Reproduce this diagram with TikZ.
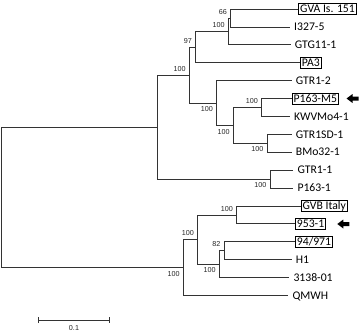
\documentclass[tikz,border=0pt]{standalone}
\usepackage{fontspec}
\setmainfont{Carlito}
\newfontfamily\bootfont{Liberation Sans}
\usetikzlibrary{arrows.meta}

\tikzset{
  branch/.style={draw=black!80, line width=0.7pt},
  taxon/.style={anchor=west, inner xsep=4pt, inner ysep=0.6pt, text height=8.6pt, text depth=1.1pt, font=\fontsize{11.7}{12}\selectfont},
  boxed/.style={taxon, draw=black, line width=0.8pt, inner xsep=1.5pt},
  boot/.style={inner sep=0pt, font=\bootfont\fontsize{7.2}{8}\selectfont, text=black!85},
  bootup/.style={boot, anchor=south east, xshift=-3.5pt, yshift=3.5pt},
  bootdown/.style={boot, anchor=north east, xshift=-3.5pt, yshift=-3.5pt},
  pics/pointer/.style={code={
    \fill (0,0) -- (6,-4.5) -- (6,-2) -- (12,-2) -- (12,2) -- (6,2) -- (6,4.5) -- cycle;
  }}
}

\begin{document}
\begin{tikzpicture}[x=1pt,y=-1pt]
    \useasboundingbox (0,0) rectangle (359,332);

    % taxa
    \node [boxed] (tGVA) at (298.3,9) {GVA Is. 151};
    \node [taxon] (tI327) at (290,26.9) {I327-5};
    \node [taxon] (tGTG) at (290.7,44.8) {GTG11-1};
    \node [boxed] (tPA3) at (300,62.7) {PA3};
    \node [taxon] (tGTR12) at (291.7,80.6) {GTR1-2};
    \node [boxed] (tM5) at (291.7,98.5) {P163-M5};
    \node [taxon] (tKWV) at (290,116.4) {KWVMo4-1};
    \node [taxon] (tSD) at (291.7,134.3) {GTR1SD-1};
    \node [taxon] (tBMo) at (291.7,152.2) {BMo32-1};
    \node [taxon] (tGTR11) at (293.3,170.1) {GTR1-1};
    \node [taxon] (tP1631) at (293.3,188) {P163-1};
    \node [boxed] (tGVB) at (300.7,205.9) {GVB Italy};
    \node [boxed] (t953) at (295,223.8) {953-1};
    \node [boxed] (t94) at (295,241.7) {94/971};
    \node [taxon] (tH1) at (291.7,259.6) {H1};
    \node [taxon] (t3138) at (289.3,277.5) {3138-01};
    \node [taxon] (tQM) at (288.3,295.4) {QMWH};

    % internal nodes
    \coordinate (root) at (1.3,197.2);
    \coordinate (n1) at (157,127);
    \coordinate (n2) at (189.3,75);
    \coordinate (a97) at (195.7,47.05);
    \coordinate (a100) at (228.3,31.4);
    \coordinate (a66) at (230.7,17.95);
    \coordinate (c1) at (216.7,102.95);
    \coordinate (c2) at (233.3,125.35);
    \coordinate (c3) at (261.7,107.45);
    \coordinate (c4) at (267,143.25);
    \coordinate (g1) at (270,179.05);
    \coordinate (n3) at (183.3,267.4);
    \coordinate (b1) at (197.7,239.5);
    \coordinate (b2) at (236.7,214.85);
    \coordinate (b3) at (219.3,264.1);
    \coordinate (b4) at (224,250.65);

    \draw [branch] (root) |- (n1);
    \draw [branch] (root) |- (n3);
    \draw [branch] (n1) |- (n2);
    \draw [branch] (n1) |- (g1);
    \draw [branch] (n2) |- (a97);
    \draw [branch] (n2) |- (c1);
    \draw [branch] (a97) |- (a100);
    \draw [branch] (a97) |- (tPA3.west);
    \draw [branch] (a100) |- (a66);
    \draw [branch] (a100) |- (tGTG.west);
    \draw [branch] (a66) |- (tGVA.west);
    \draw [branch] (a66) |- (tI327.west);
    \draw [branch] (c1) |- (tGTR12.west);
    \draw [branch] (c1) |- (c2);
    \draw [branch] (c2) |- (c3);
    \draw [branch] (c2) |- (c4);
    \draw [branch] (c3) |- (tM5.west);
    \draw [branch] (c3) |- (tKWV.west);
    \draw [branch] (c4) |- (tSD.west);
    \draw [branch] (c4) |- (tBMo.west);
    \draw [branch] (g1) |- (tGTR11.west);
    \draw [branch] (g1) |- (tP1631.west);
    \draw [branch] (n3) |- (b1);
    \draw [branch] (n3) |- (tQM.west);
    \draw [branch] (b1) |- (b2);
    \draw [branch] (b1) |- (b3);
    \draw [branch] (b2) |- (tGVB.west);
    \draw [branch] (b2) |- (t953.west);
    \draw [branch] (b3) |- (b4);
    \draw [branch] (b3) |- (t3138.west);
    \draw [branch] (b4) |- (t94.west);
    \draw [branch] (b4) |- (tH1.west);

    % bootstrap values
    \node [bootup] (l66) at (a66) {66};
    \node [bootup] (la100) at (a100) {100};
    \node [bootup] (l97) at (a97) {97};
    \node [bootup] (ln2) at (n2) {100};
    \node [bootdown] (lc1) at (c1) {100};
    \node [bootdown] (lc2) at (c2) {100};
    \node [bootup] (lc3) at (c3) {100};
    \node [bootdown] (lc4) at (c4) {100};
    \node [bootdown] (lg1) at (g1) {100};
    \node [bootdown] (ln3) at (n3) {100};
    \node [bootup] (lb1) at (b1) {100};
    \node [bootup] (lb2) at (b2) {100};
    \node [bootdown] (lb3) at (b3) {100};
    \node [bootup] (lb4) at (b4) {82};

    % arrows
    \coordinate (markM5) at (346.5,98.5);
    \coordinate (mark953) at (337.3,224);
    \pic at (markM5) {pointer};
    \pic at (mark953) {pointer};

    % scale bar
    \coordinate (sbl) at (38,320);
    \coordinate (sbr) at (110,320);
    \draw [branch, {Bar[width=6pt]}-{Bar[width=6pt]}] (sbl) -- (sbr);
    \node [boot] (sbtext) at (74,328.5) {0.1};
\end{tikzpicture}
\end{document}
